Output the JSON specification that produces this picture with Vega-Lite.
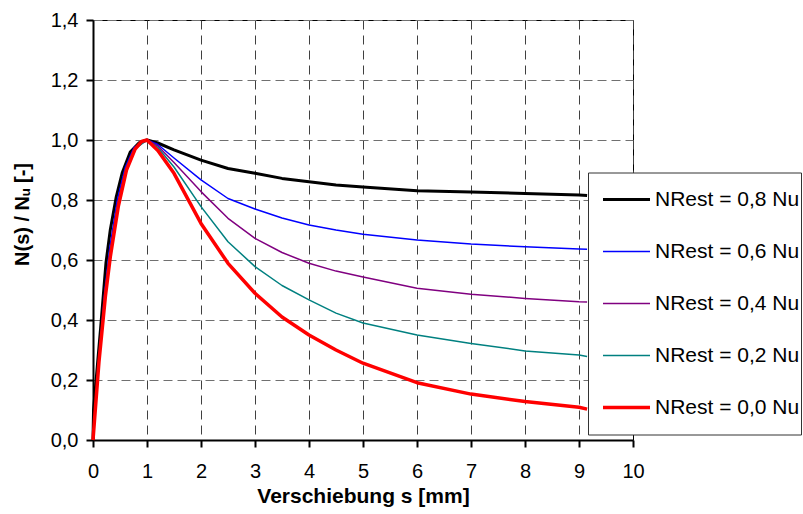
{
  "$schema": "https://vega.github.io/schema/vega-lite/v6.json",
  "width": 540,
  "height": 420,
  "autosize": {"type": "none"},
  "padding": {"left": 93, "top": 20, "right": 170, "bottom": 74},
  "background": "white",
  "config": {
    "font": "Liberation Sans",
    "view": {"stroke": "black", "strokeWidth": 1},
    "axis": {
      "labelFont": "Liberation Sans",
      "titleFont": "Liberation Sans",
      "labelFontSize": 20,
      "labelColor": "black",
      "titleColor": "black",
      "titleFontSize": 20,
      "titleFontWeight": "bold",
      "domainColor": "black",
      "domainWidth": 2,
      "tickColor": "black",
      "tickWidth": 2,
      "tickSize": 7,
      "gridWidth": 1,
      "labelFlush": false
    },
    "legend": {
      "labelFont": "Liberation Sans"
    }
  },
  "data": {
    "values": [
      {"s": 0, "v": 0, "k": "NRest = 0,8 Nu"},
      {"s": 0.01, "v": 0.1, "k": "NRest = 0,8 Nu"},
      {"s": 0.14, "v": 0.37, "k": "NRest = 0,8 Nu"},
      {"s": 0.24, "v": 0.59, "k": "NRest = 0,8 Nu"},
      {"s": 0.32, "v": 0.7, "k": "NRest = 0,8 Nu"},
      {"s": 0.43, "v": 0.81, "k": "NRest = 0,8 Nu"},
      {"s": 0.54, "v": 0.89, "k": "NRest = 0,8 Nu"},
      {"s": 0.69, "v": 0.96, "k": "NRest = 0,8 Nu"},
      {"s": 0.85, "v": 0.99, "k": "NRest = 0,8 Nu"},
      {"s": 1, "v": 1, "k": "NRest = 0,8 Nu"},
      {"s": 1.2, "v": 0.99, "k": "NRest = 0,8 Nu"},
      {"s": 1.5, "v": 0.967, "k": "NRest = 0,8 Nu"},
      {"s": 2, "v": 0.933, "k": "NRest = 0,8 Nu"},
      {"s": 2.5, "v": 0.905, "k": "NRest = 0,8 Nu"},
      {"s": 3, "v": 0.889, "k": "NRest = 0,8 Nu"},
      {"s": 3.5, "v": 0.872, "k": "NRest = 0,8 Nu"},
      {"s": 4, "v": 0.861, "k": "NRest = 0,8 Nu"},
      {"s": 4.5, "v": 0.85, "k": "NRest = 0,8 Nu"},
      {"s": 5, "v": 0.843, "k": "NRest = 0,8 Nu"},
      {"s": 6, "v": 0.831, "k": "NRest = 0,8 Nu"},
      {"s": 7, "v": 0.827, "k": "NRest = 0,8 Nu"},
      {"s": 8, "v": 0.822, "k": "NRest = 0,8 Nu"},
      {"s": 9, "v": 0.817, "k": "NRest = 0,8 Nu"},
      {"s": 9.15, "v": 0.815, "k": "NRest = 0,8 Nu"},

      {"s": 0, "v": 0, "k": "NRest = 0,6 Nu"},
      {"s": 0.11, "v": 0.27, "k": "NRest = 0,6 Nu"},
      {"s": 0.22, "v": 0.5, "k": "NRest = 0,6 Nu"},
      {"s": 0.31, "v": 0.64, "k": "NRest = 0,6 Nu"},
      {"s": 0.45, "v": 0.8, "k": "NRest = 0,6 Nu"},
      {"s": 0.6, "v": 0.91, "k": "NRest = 0,6 Nu"},
      {"s": 0.76, "v": 0.975, "k": "NRest = 0,6 Nu"},
      {"s": 1, "v": 1, "k": "NRest = 0,6 Nu"},
      {"s": 1.2, "v": 0.985, "k": "NRest = 0,6 Nu"},
      {"s": 1.5, "v": 0.94, "k": "NRest = 0,6 Nu"},
      {"s": 2, "v": 0.867, "k": "NRest = 0,6 Nu"},
      {"s": 2.5, "v": 0.805, "k": "NRest = 0,6 Nu"},
      {"s": 3, "v": 0.77, "k": "NRest = 0,6 Nu"},
      {"s": 3.5, "v": 0.74, "k": "NRest = 0,6 Nu"},
      {"s": 4, "v": 0.717, "k": "NRest = 0,6 Nu"},
      {"s": 4.5, "v": 0.7, "k": "NRest = 0,6 Nu"},
      {"s": 5, "v": 0.686, "k": "NRest = 0,6 Nu"},
      {"s": 6, "v": 0.667, "k": "NRest = 0,6 Nu"},
      {"s": 7, "v": 0.653, "k": "NRest = 0,6 Nu"},
      {"s": 8, "v": 0.644, "k": "NRest = 0,6 Nu"},
      {"s": 9, "v": 0.637, "k": "NRest = 0,6 Nu"},
      {"s": 9.15, "v": 0.636, "k": "NRest = 0,6 Nu"},

      {"s": 0, "v": 0, "k": "NRest = 0,4 Nu"},
      {"s": 0.11, "v": 0.265, "k": "NRest = 0,4 Nu"},
      {"s": 0.22, "v": 0.49, "k": "NRest = 0,4 Nu"},
      {"s": 0.32, "v": 0.63, "k": "NRest = 0,4 Nu"},
      {"s": 0.46, "v": 0.79, "k": "NRest = 0,4 Nu"},
      {"s": 0.61, "v": 0.905, "k": "NRest = 0,4 Nu"},
      {"s": 0.77, "v": 0.972, "k": "NRest = 0,4 Nu"},
      {"s": 1, "v": 1, "k": "NRest = 0,4 Nu"},
      {"s": 1.2, "v": 0.98, "k": "NRest = 0,4 Nu"},
      {"s": 1.5, "v": 0.925, "k": "NRest = 0,4 Nu"},
      {"s": 2, "v": 0.828, "k": "NRest = 0,4 Nu"},
      {"s": 2.5, "v": 0.739, "k": "NRest = 0,4 Nu"},
      {"s": 3, "v": 0.672, "k": "NRest = 0,4 Nu"},
      {"s": 3.5, "v": 0.625, "k": "NRest = 0,4 Nu"},
      {"s": 4, "v": 0.589, "k": "NRest = 0,4 Nu"},
      {"s": 4.5, "v": 0.563, "k": "NRest = 0,4 Nu"},
      {"s": 5, "v": 0.543, "k": "NRest = 0,4 Nu"},
      {"s": 6, "v": 0.506, "k": "NRest = 0,4 Nu"},
      {"s": 7, "v": 0.486, "k": "NRest = 0,4 Nu"},
      {"s": 8, "v": 0.472, "k": "NRest = 0,4 Nu"},
      {"s": 9, "v": 0.461, "k": "NRest = 0,4 Nu"},
      {"s": 9.15, "v": 0.46, "k": "NRest = 0,4 Nu"},

      {"s": 0, "v": 0, "k": "NRest = 0,2 Nu"},
      {"s": 0.11, "v": 0.26, "k": "NRest = 0,2 Nu"},
      {"s": 0.23, "v": 0.485, "k": "NRest = 0,2 Nu"},
      {"s": 0.32, "v": 0.62, "k": "NRest = 0,2 Nu"},
      {"s": 0.47, "v": 0.785, "k": "NRest = 0,2 Nu"},
      {"s": 0.62, "v": 0.9, "k": "NRest = 0,2 Nu"},
      {"s": 0.78, "v": 0.97, "k": "NRest = 0,2 Nu"},
      {"s": 1, "v": 1, "k": "NRest = 0,2 Nu"},
      {"s": 1.2, "v": 0.975, "k": "NRest = 0,2 Nu"},
      {"s": 1.5, "v": 0.91, "k": "NRest = 0,2 Nu"},
      {"s": 2, "v": 0.778, "k": "NRest = 0,2 Nu"},
      {"s": 2.5, "v": 0.661, "k": "NRest = 0,2 Nu"},
      {"s": 3, "v": 0.578, "k": "NRest = 0,2 Nu"},
      {"s": 3.5, "v": 0.515, "k": "NRest = 0,2 Nu"},
      {"s": 4, "v": 0.467, "k": "NRest = 0,2 Nu"},
      {"s": 4.5, "v": 0.423, "k": "NRest = 0,2 Nu"},
      {"s": 5, "v": 0.39, "k": "NRest = 0,2 Nu"},
      {"s": 6, "v": 0.35, "k": "NRest = 0,2 Nu"},
      {"s": 7, "v": 0.322, "k": "NRest = 0,2 Nu"},
      {"s": 8, "v": 0.297, "k": "NRest = 0,2 Nu"},
      {"s": 9, "v": 0.283, "k": "NRest = 0,2 Nu"},
      {"s": 9.15, "v": 0.278, "k": "NRest = 0,2 Nu"},

      {"s": 0, "v": 0, "k": "NRest = 0,0 Nu"},
      {"s": 0.11, "v": 0.26, "k": "NRest = 0,0 Nu"},
      {"s": 0.23, "v": 0.48, "k": "NRest = 0,0 Nu"},
      {"s": 0.32, "v": 0.61, "k": "NRest = 0,0 Nu"},
      {"s": 0.47, "v": 0.78, "k": "NRest = 0,0 Nu"},
      {"s": 0.62, "v": 0.9, "k": "NRest = 0,0 Nu"},
      {"s": 0.78, "v": 0.97, "k": "NRest = 0,0 Nu"},
      {"s": 0.9, "v": 0.995, "k": "NRest = 0,0 Nu"},
      {"s": 1, "v": 1, "k": "NRest = 0,0 Nu"},
      {"s": 1.2, "v": 0.965, "k": "NRest = 0,0 Nu"},
      {"s": 1.5, "v": 0.889, "k": "NRest = 0,0 Nu"},
      {"s": 2, "v": 0.722, "k": "NRest = 0,0 Nu"},
      {"s": 2.5, "v": 0.589, "k": "NRest = 0,0 Nu"},
      {"s": 3, "v": 0.489, "k": "NRest = 0,0 Nu"},
      {"s": 3.5, "v": 0.41, "k": "NRest = 0,0 Nu"},
      {"s": 4, "v": 0.35, "k": "NRest = 0,0 Nu"},
      {"s": 4.5, "v": 0.3, "k": "NRest = 0,0 Nu"},
      {"s": 5, "v": 0.256, "k": "NRest = 0,0 Nu"},
      {"s": 6, "v": 0.191, "k": "NRest = 0,0 Nu"},
      {"s": 7, "v": 0.153, "k": "NRest = 0,0 Nu"},
      {"s": 8, "v": 0.128, "k": "NRest = 0,0 Nu"},
      {"s": 9, "v": 0.109, "k": "NRest = 0,0 Nu"},
      {"s": 9.15, "v": 0.103, "k": "NRest = 0,0 Nu"}
    ]
  },
  "mark": {"type": "line", "strokeJoin": "round", "strokeCap": "butt"},
  "encoding": {
    "x": {
      "field": "s",
      "type": "quantitative",
      "scale": {"domain": [0, 10], "nice": false, "zero": false},
      "axis": {
        "title": "Verschiebung s [mm]",
        "titleFontSize": 21,
        "values": [0, 1, 2, 3, 4, 5, 6, 7, 8, 9, 10],
        "format": "d",
        "labelPadding": 14,
        "titlePadding": 4,
        "gridColor": "#404040",
        "gridDash": [9, 6]
      }
    },
    "y": {
      "field": "v",
      "type": "quantitative",
      "scale": {"domain": [0, 1.4], "nice": false},
      "axis": {
        "title": "N(s) / Nᵤ [-]",
        "values": [0, 0.2, 0.4, 0.6, 0.8, 1.0, 1.2, 1.4],
        "labelExpr": "replace(format(datum.value, '.1f'), '.', ',')",
        "labelPadding": 8,
        "titleX": -71,
        "titleY": 194,
        "titleAlign": "center",
        "titleBaseline": "middle",
        "titleAngle": -90,
        "gridColor": "#707070",
        "gridDash": [9, 5]
      }
    },
    "color": {
      "field": "k",
      "type": "nominal",
      "scale": {
        "domain": ["NRest = 0,8 Nu", "NRest = 0,6 Nu", "NRest = 0,4 Nu", "NRest = 0,2 Nu", "NRest = 0,0 Nu"],
        "range": ["#000000", "#0000FF", "#800080", "#008080", "#FF0000"]
      },
      "legend": {
        "title": null,
        "orient": "none",
        "legendX": 495,
        "legendY": 152.5,
        "fillColor": "white",
        "strokeColor": "#333333",
        "padding": 1,
        "symbolType": "stroke",
        "symbolSize": 2209,
        "symbolOffset": 12,
        "labelFontSize": 21,
        "labelColor": "black",
        "labelOffset": 3,
        "labelLimit": 400,
        "clipHeight": 52,
        "rowPadding": 0
      }
    },
    "strokeWidth": {
      "field": "k",
      "type": "nominal",
      "scale": {
        "type": "ordinal",
        "domain": ["NRest = 0,8 Nu", "NRest = 0,6 Nu", "NRest = 0,4 Nu", "NRest = 0,2 Nu", "NRest = 0,0 Nu"],
        "range": [3, 1.5, 1.5, 1.5, 3.5]
      },
      "legend": {
        "title": null,
        "orient": "none",
        "legendX": 495,
        "legendY": 152.5,
        "fillColor": "white",
        "strokeColor": "#333333",
        "padding": 1,
        "symbolType": "stroke",
        "symbolSize": 2209,
        "symbolOffset": 12,
        "labelFontSize": 21,
        "labelColor": "black",
        "labelOffset": 3,
        "labelLimit": 400,
        "clipHeight": 52,
        "rowPadding": 0
      }
    }
  }
}
